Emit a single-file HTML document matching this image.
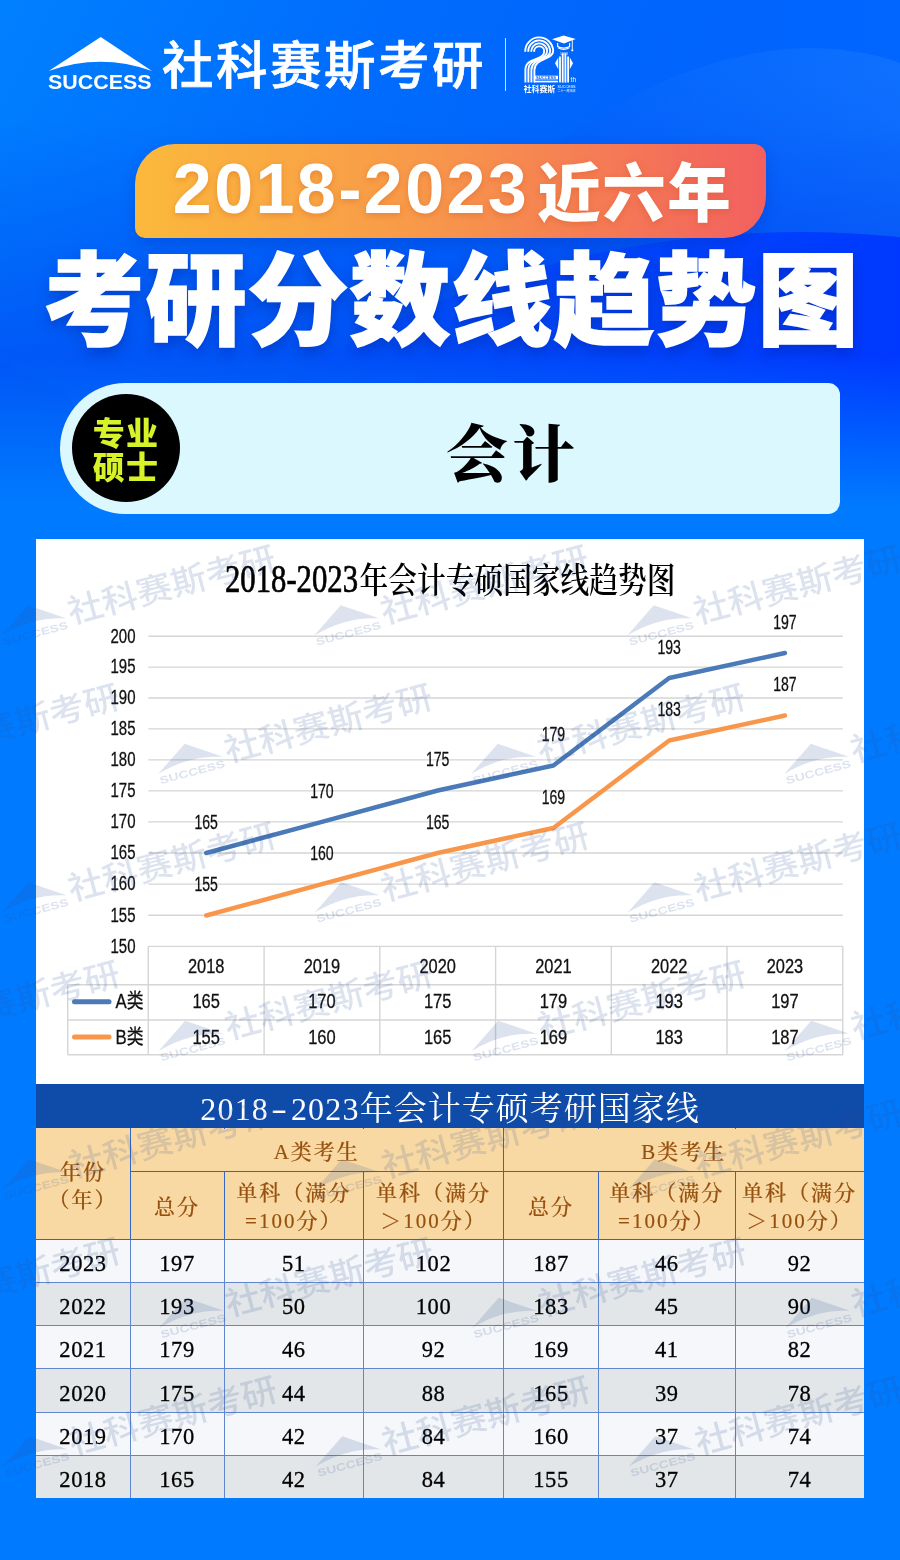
<!DOCTYPE html>
<html lang="zh-CN">
<head>
<meta charset="utf-8">
<title>2018-2023 近六年 考研分数线趋势图 会计</title>
<style>
  html, body { margin: 0; padding: 0; }
  body { width: 900px; height: 1560px; overflow: hidden; background: #007bff; font-family: "Liberation Sans", "Noto Sans CJK SC", sans-serif; }
  #page { position: relative; width: 900px; height: 1560px; overflow: hidden; background: #007bff; }
  .abs { position: absolute; }
  #bg { position: absolute; left: 0; top: 0; width: 900px; height: 560px; }
  #brand { position: absolute; left: 162px; top: 32px; font-size: 51.500px; line-height: 68px; color: #fff; font-weight: 500; -webkit-text-stroke: 0.7px #fff; letter-spacing: 2.5px; white-space: nowrap; font-family: "Liberation Sans", "Noto Sans CJK SC", sans-serif; }
  #divider { position: absolute; left: 504.500px; top: 38px; width: 1.500px; height: 53px; background: rgba(255,255,255,0.8); }
  #banner { position: absolute; left: 135px; top: 144px; width: 631px; height: 94px; border-radius: 40px 12px 42px 10px; background: linear-gradient(90deg, #fbb93c 0%, #f8994a 45%, #f2605f 100%); box-shadow: 0 6px 14px rgba(0,40,160,0.25); }
  #banner .t { position: absolute; left: 2px; top: 0; width: 100%; height: 94px; line-height: 94px; text-align: center; color: #fff; font-weight: 700; white-space: nowrap; text-shadow: 0 2px 6px rgba(200,80,20,0.35); }
  #banner .num { font-family: "Liberation Sans", sans-serif; font-size: 70px; letter-spacing: 2.4px; position: relative; top: -2px; }
  #banner .cn { font-family: "Liberation Sans", "Noto Sans CJK SC", sans-serif; font-weight: 900; font-size: 63.500px; position: relative; top: 1px; margin-left: 8px; letter-spacing: 1.5px; }
  #title { position: absolute; left: 1.500px; top: 237px; width: 900px; height: 130px; line-height: 130px; text-align: center; color: #fff; font-family: "Liberation Sans", "Noto Sans CJK SC", sans-serif; font-weight: 900; font-size: 101px; letter-spacing: 1px; -webkit-text-stroke: 1.6px #fff; white-space: nowrap; text-shadow: 0 6px 14px rgba(0,30,150,0.45); }
  #pill { position: absolute; left: 60px; top: 382.700px; width: 780px; height: 131.700px; border-radius: 66px 12px 12px 66px; background: #dbf8ff; }
  #dot { position: absolute; left: 72px; top: 394px; width: 108px; height: 108px; border-radius: 50%; background: #000; }
  #dot .t { position: absolute; left: 0; width: 108px; text-align: center; color: #d8f229; font-weight: 900; font-size: 32px; line-height: 32px; letter-spacing: 1.2px; font-family: "Liberation Sans", "Noto Sans CJK SC", sans-serif; }
  #major { position: absolute; left: 182.500px; top: 400.500px; width: 660px; height: 110px; line-height: 110px; text-align: center; color: #000; font-family: "Liberation Serif", "Noto Serif CJK SC", serif; font-weight: 900; font-size: 62px; letter-spacing: 4.500px; }
  .ct { font-family: "Liberation Sans", "Noto Sans CJK SC", sans-serif; font-size: 20px; fill: #111; stroke: #111; stroke-width: 0.3px; }
  #tbl { position: absolute; left: 36px; top: 1084px; width: 828px; height: 414px; background: #f9d9a3; }
  .cell { position: absolute; box-sizing: border-box; text-align: center; font-family: "Liberation Serif", "Noto Serif CJK SC", serif; white-space: nowrap; overflow: hidden; }
  .cell.ttl { background: #0f4ba9; color: #fff; font-size: 33px; line-height: 50px; letter-spacing: 1px; }
  .cell.ttl .d { font-size: 32px; letter-spacing: 1.2px; }
  .cell.ttl .hy { display: inline-block; transform: scaleX(1.5); margin: 0 5px; position: relative; top: -1px; }
  .cell.hd { background: #f9d9a3; color: #96500f; font-weight: 500; -webkit-text-stroke: 0.2px #96500f; font-size: 21px; letter-spacing: 2px; }
  .cell.hd .two { line-height: 29px; }
  .cell.dt { color: #000; font-size: 22.500px; letter-spacing: 0.6px; -webkit-text-stroke: 0.3px #000; }
  .vl { position: absolute; width: 1px; background: #3466c4; }
  .hl { position: absolute; height: 1px; background: #3466c4; }
  .vl.lt, .hl.lt { background: #5f86cf; }
  #wmclip { position: absolute; left: 0; top: 539px; width: 900px; height: 960px; overflow: hidden; pointer-events: none; }
  #wm { position: absolute; left: 0; top: -539px; width: 900px; height: 1560px; }

</style>
</head>
<body>
<div id="page">

<svg id="bg" viewBox="0 0 900 560" width="900" height="560">
  <defs>
    <linearGradient id="g0" gradientUnits="userSpaceOnUse" x1="0" y1="0" x2="620" y2="330">
      <stop offset="0" stop-color="#0080ff"/>
      <stop offset="0.500" stop-color="#006cfd"/>
      <stop offset="1" stop-color="#0062fb"/>
    </linearGradient>
    <linearGradient id="gfade" gradientUnits="userSpaceOnUse" x1="0" y1="355" x2="0" y2="507">
      <stop offset="0" stop-color="#007bff" stop-opacity="0"/>
      <stop offset="1" stop-color="#007bff" stop-opacity="1"/>
    </linearGradient>
    <linearGradient id="gdark" gradientUnits="userSpaceOnUse" x1="150" y1="0" x2="900" y2="0">
      <stop offset="0" stop-color="#0050fc" stop-opacity="0"/>
      <stop offset="0.450" stop-color="#0048fc" stop-opacity="0.750"/>
      <stop offset="1" stop-color="#0038ff" stop-opacity="1"/>
    </linearGradient>
    <linearGradient id="garc" gradientUnits="userSpaceOnUse" x1="540" y1="0" x2="900" y2="0">
      <stop offset="0" stop-color="#1a78ff" stop-opacity="0"/>
      <stop offset="1" stop-color="#1a78ff" stop-opacity="0.550"/>
    </linearGradient>
    <linearGradient id="gvd" gradientUnits="userSpaceOnUse" x1="0" y1="120" x2="0" y2="360">
      <stop offset="0" stop-color="#0040f0" stop-opacity="0"/>
      <stop offset="1" stop-color="#0040f0" stop-opacity="0.550"/>
    </linearGradient>
    <linearGradient id="gva" gradientUnits="userSpaceOnUse" x1="0" y1="70" x2="0" y2="240">
      <stop offset="0" stop-color="#0048f0" stop-opacity="0"/>
      <stop offset="1" stop-color="#0048f0" stop-opacity="0.300"/>
    </linearGradient>
    <linearGradient id="gtopr" gradientUnits="userSpaceOnUse" x1="500" y1="0" x2="900" y2="0">
      <stop offset="0" stop-color="#0066ff" stop-opacity="0"/>
      <stop offset="1" stop-color="#0066ff" stop-opacity="1"/>
    </linearGradient>
  </defs>
  <rect x="0" y="0" width="900" height="560" fill="url(#g0)"/>
  <rect x="500" y="0" width="400" height="240" fill="url(#gtopr)"/>
  <path d="M520,175 C600,100 710,50 805,48 C845,48 880,55 900,63 L900,300 L520,300 Z" fill="url(#garc)"/>
  <path d="M520,175 C600,100 710,50 805,48 C845,48 880,55 900,63 L900,300 L520,300 Z" fill="url(#gva)"/>
  <rect x="0" y="120" width="900" height="400" fill="url(#gvd)"/>
  <circle cx="800" cy="1207" r="975" fill="url(#gdark)"/>
  <path d="M0,362 L66,392 L120,470 L0,470 Z" fill="#0050f5" fill-opacity="0.250"/>
  <rect x="0" y="355" width="900" height="152" fill="url(#gfade)"/>
  <rect x="0" y="506.500" width="900" height="54" fill="#007bff"/>
</svg>


<svg class="abs" style="left:40px;top:30px" width="120" height="66" viewBox="40 30 120 66">
  <path d="M100.700,37 L152,71 Q100.700,52.400 48.700,71 Z" fill="#fff"/>
  <text x="48" y="89" font-family="'Liberation Sans',sans-serif" font-weight="700" font-size="20.500" fill="#fff" textLength="103.500" lengthAdjust="spacingAndGlyphs">SUCCESS</text>
</svg>
<div id="brand">社科赛斯考研</div>
<div id="divider"></div>
<svg class="abs" style="left:520px;top:32px" width="64" height="64" viewBox="520 32 64 64" fill="none" stroke="#fff">
  <g stroke-width="1.900">
    <path d="M525.20,51.80 A14.00,14.00 0 0 1 553.20,51.00 C553.20,60.00 534.40,58.00 534.40,70.00 L534.40,82.40"/>
    <path d="M528.20,51.80 A11.00,11.00 0 0 1 550.20,51.00 C550.20,60.60 531.40,57.40 531.40,70.00 L531.40,82.40"/>
    <path d="M531.20,51.80 A8.00,8.00 0 0 1 547.20,51.00 C547.20,61.20 528.40,56.80 528.40,70.00 L528.40,82.40"/>
    <path d="M534.20,51.80 A5.00,5.00 0 0 1 544.20,51.00 C544.20,61.80 525.40,56.20 525.40,70.00 L525.40,82.40"/>
  </g>
  <rect x="534.300" y="75.700" width="23.700" height="3.700" fill="#fff" stroke="none"/>
  <text x="536" y="78.700" font-family="'Liberation Sans',sans-serif" font-weight="700" font-size="3.200" fill="#0a5cf0" stroke="none" textLength="20" lengthAdjust="spacingAndGlyphs">SUCCESS</text>
  <rect x="534.300" y="80.700" width="23.700" height="1.700" fill="#fff" stroke="none"/>
  <g stroke-width="1.800">
    <path d="M560,56.500 L560,82.600"/><path d="M562.700,53.500 L562.700,82.600"/><path d="M565.400,53.500 L565.400,82.600"/><path d="M568.100,56.500 L568.100,82.600"/>
  </g>
  <path d="M558.300,57.500 L555,63.300 L558.300,69.200 Z M569.800,57.500 L573,63.300 L569.800,69.200 Z" fill="#fff" stroke="none"/>
  <path d="M552,39.300 L563.500,35.600 L575.700,39 L564,43.400 Z" fill="#fff" stroke="none"/>
  <path d="M557.600,43 L557.600,46.500 C561,48.600 566.500,48.600 569.600,46.500 L569.600,43" stroke-width="1.200"/>
  <path d="M558,47.800 C561.500,49.800 566,49.800 569.300,47.800" stroke-width="1.100"/>
  <path d="M572.300,40 L572.300,49.500" stroke-width="0.900"/>
  <circle cx="572.300" cy="50.300" r="1.100" fill="#fff" stroke="none"/>
  <text x="560" y="54.500" font-family="'Liberation Sans',sans-serif" font-size="2.600" fill="#fff" stroke="none" textLength="8" lengthAdjust="spacingAndGlyphs">1999</text>
  <text x="570.600" y="82.400" font-family="'Liberation Sans',sans-serif" font-size="6.800" fill="#fff" stroke="none" textLength="5.400" lengthAdjust="spacingAndGlyphs">th</text>
  <text x="523.700" y="91.600" font-family="'Liberation Sans','Noto Sans CJK SC',sans-serif" font-weight="700" font-size="8" fill="#fff" stroke="none" textLength="31.500" lengthAdjust="spacingAndGlyphs">社科赛斯</text>
  <text x="557.600" y="88" font-family="'Liberation Sans',sans-serif" font-size="3.600" fill="#fff" stroke="none" textLength="18" lengthAdjust="spacingAndGlyphs">SUCCESS</text>
  <text x="557.600" y="91.800" font-family="'Liberation Sans','Noto Sans CJK SC',sans-serif" font-size="3.400" fill="#fff" stroke="none" textLength="18" lengthAdjust="spacingAndGlyphs">二十一周年庆</text>
</svg>


<div id="banner"><div class="t"><span class="num">2018-2023</span><span class="cn">近六年</span></div></div>
<div id="title">考研分数线趋势图</div>


<div id="pill"></div>
<div id="dot"><div class="t" style="top:23.500px">专业</div><div class="t" style="top:58px">硕士</div></div>
<div id="major">会计</div>

<svg class="abs" style="left:36px;top:539px" width="828" height="546" viewBox="36 539 828 546">
<rect x="36" y="539" width="828" height="546" fill="#fff"/>
<text x="225" y="592" font-family="'Liberation Serif',serif" font-weight="400" font-size="39" fill="#000" stroke="#000" stroke-width="0.7" textLength="133" lengthAdjust="spacingAndGlyphs">2018-2023</text>
<text x="359.500" y="593" font-family="'Liberation Serif','Noto Serif CJK SC',serif" font-weight="600" font-size="35" fill="#000" textLength="316" lengthAdjust="spacingAndGlyphs">年会计专硕国家线趋势图</text>
<line x1="148.3" x2="842.8" y1="915.2" y2="915.2" stroke="#d5d5d5" stroke-width="1.4"/>
<line x1="148.3" x2="842.8" y1="884.1" y2="884.1" stroke="#d5d5d5" stroke-width="1.4"/>
<line x1="148.3" x2="842.8" y1="853.0" y2="853.0" stroke="#d5d5d5" stroke-width="1.4"/>
<line x1="148.3" x2="842.8" y1="821.9" y2="821.9" stroke="#d5d5d5" stroke-width="1.4"/>
<line x1="148.3" x2="842.8" y1="790.9" y2="790.9" stroke="#d5d5d5" stroke-width="1.4"/>
<line x1="148.3" x2="842.8" y1="759.9" y2="759.9" stroke="#d5d5d5" stroke-width="1.4"/>
<line x1="148.3" x2="842.8" y1="728.9" y2="728.9" stroke="#d5d5d5" stroke-width="1.4"/>
<line x1="148.3" x2="842.8" y1="698.0" y2="698.0" stroke="#d5d5d5" stroke-width="1.4"/>
<line x1="148.3" x2="842.8" y1="667.1" y2="667.1" stroke="#d5d5d5" stroke-width="1.4"/>
<line x1="148.3" x2="842.8" y1="636.2" y2="636.2" stroke="#d5d5d5" stroke-width="1.4"/>
<text x="135.500" y="952.7" text-anchor="end" class="ct" textLength="25" lengthAdjust="spacingAndGlyphs">150</text>
<text x="135.500" y="921.5" text-anchor="end" class="ct" textLength="25" lengthAdjust="spacingAndGlyphs">155</text>
<text x="135.500" y="890.4" text-anchor="end" class="ct" textLength="25" lengthAdjust="spacingAndGlyphs">160</text>
<text x="135.500" y="859.3" text-anchor="end" class="ct" textLength="25" lengthAdjust="spacingAndGlyphs">165</text>
<text x="135.500" y="828.2" text-anchor="end" class="ct" textLength="25" lengthAdjust="spacingAndGlyphs">170</text>
<text x="135.500" y="797.2" text-anchor="end" class="ct" textLength="25" lengthAdjust="spacingAndGlyphs">175</text>
<text x="135.500" y="766.2" text-anchor="end" class="ct" textLength="25" lengthAdjust="spacingAndGlyphs">180</text>
<text x="135.500" y="735.2" text-anchor="end" class="ct" textLength="25" lengthAdjust="spacingAndGlyphs">185</text>
<text x="135.500" y="704.3" text-anchor="end" class="ct" textLength="25" lengthAdjust="spacingAndGlyphs">190</text>
<text x="135.500" y="673.4" text-anchor="end" class="ct" textLength="25" lengthAdjust="spacingAndGlyphs">195</text>
<text x="135.500" y="642.5" text-anchor="end" class="ct" textLength="25" lengthAdjust="spacingAndGlyphs">200</text>
<line x1="148.3" x2="842.800" y1="946.4" y2="946.4" stroke="#d5d5d5" stroke-width="1.4"/>
<line x1="67.7" x2="842.800" y1="984.7" y2="984.7" stroke="#d5d5d5" stroke-width="1.4"/>
<line x1="67.7" x2="842.800" y1="1020.0" y2="1020.0" stroke="#d5d5d5" stroke-width="1.4"/>
<line x1="67.7" x2="842.800" y1="1054.7" y2="1054.7" stroke="#d5d5d5" stroke-width="1.4"/>
<line x1="148.3" x2="148.3" y1="946.400" y2="1054.700" stroke="#d5d5d5" stroke-width="1.4"/>
<line x1="264.1" x2="264.1" y1="946.400" y2="1054.700" stroke="#d5d5d5" stroke-width="1.4"/>
<line x1="379.8" x2="379.8" y1="946.400" y2="1054.700" stroke="#d5d5d5" stroke-width="1.4"/>
<line x1="495.6" x2="495.6" y1="946.400" y2="1054.700" stroke="#d5d5d5" stroke-width="1.4"/>
<line x1="611.3" x2="611.3" y1="946.400" y2="1054.700" stroke="#d5d5d5" stroke-width="1.4"/>
<line x1="727.0" x2="727.0" y1="946.400" y2="1054.700" stroke="#d5d5d5" stroke-width="1.4"/>
<line x1="842.8" x2="842.8" y1="946.400" y2="1054.700" stroke="#d5d5d5" stroke-width="1.4"/>
<line x1="67.700" x2="67.700" y1="984.700" y2="1054.700" stroke="#d5d5d5" stroke-width="1.4"/>
<text x="206.2" y="973.200" text-anchor="middle" class="ct" textLength="36.500" lengthAdjust="spacingAndGlyphs">2018</text>
<text x="206.2" y="1008.200" text-anchor="middle" class="ct" textLength="27.500" lengthAdjust="spacingAndGlyphs">165</text>
<text x="206.2" y="1043.600" text-anchor="middle" class="ct" textLength="27.500" lengthAdjust="spacingAndGlyphs">155</text>
<text x="321.9" y="973.200" text-anchor="middle" class="ct" textLength="36.500" lengthAdjust="spacingAndGlyphs">2019</text>
<text x="321.9" y="1008.200" text-anchor="middle" class="ct" textLength="27.500" lengthAdjust="spacingAndGlyphs">170</text>
<text x="321.9" y="1043.600" text-anchor="middle" class="ct" textLength="27.500" lengthAdjust="spacingAndGlyphs">160</text>
<text x="437.7" y="973.200" text-anchor="middle" class="ct" textLength="36.500" lengthAdjust="spacingAndGlyphs">2020</text>
<text x="437.7" y="1008.200" text-anchor="middle" class="ct" textLength="27.500" lengthAdjust="spacingAndGlyphs">175</text>
<text x="437.7" y="1043.600" text-anchor="middle" class="ct" textLength="27.500" lengthAdjust="spacingAndGlyphs">165</text>
<text x="553.4" y="973.200" text-anchor="middle" class="ct" textLength="36.500" lengthAdjust="spacingAndGlyphs">2021</text>
<text x="553.4" y="1008.200" text-anchor="middle" class="ct" textLength="27.500" lengthAdjust="spacingAndGlyphs">179</text>
<text x="553.4" y="1043.600" text-anchor="middle" class="ct" textLength="27.500" lengthAdjust="spacingAndGlyphs">169</text>
<text x="669.2" y="973.200" text-anchor="middle" class="ct" textLength="36.500" lengthAdjust="spacingAndGlyphs">2022</text>
<text x="669.2" y="1008.200" text-anchor="middle" class="ct" textLength="27.500" lengthAdjust="spacingAndGlyphs">193</text>
<text x="669.2" y="1043.600" text-anchor="middle" class="ct" textLength="27.500" lengthAdjust="spacingAndGlyphs">183</text>
<text x="784.9" y="973.200" text-anchor="middle" class="ct" textLength="36.500" lengthAdjust="spacingAndGlyphs">2023</text>
<text x="784.9" y="1008.200" text-anchor="middle" class="ct" textLength="27.500" lengthAdjust="spacingAndGlyphs">197</text>
<text x="784.9" y="1043.600" text-anchor="middle" class="ct" textLength="27.500" lengthAdjust="spacingAndGlyphs">187</text>
<line x1="74.500" x2="109" y1="1001.700" y2="1001.700" stroke="#4a7ab8" stroke-width="5" stroke-linecap="round"/>
<line x1="74.500" x2="109" y1="1037" y2="1037" stroke="#f8974b" stroke-width="5" stroke-linecap="round"/>
<text x="115.500" y="1008.400" class="ct" textLength="28" lengthAdjust="spacingAndGlyphs">A类</text>
<text x="115.500" y="1043.800" class="ct" textLength="28" lengthAdjust="spacingAndGlyphs">B类</text>
<polyline points="206.2,853.0 321.9,821.8 437.7,790.5 553.4,765.5 669.2,678.0 784.9,653.0" fill="none" stroke="#4a7ab8" stroke-width="4.5" stroke-linecap="round" stroke-linejoin="round"/>
<polyline points="206.2,915.5 321.9,884.2 437.7,853.0 553.4,828.0 669.2,740.5 784.9,715.5" fill="none" stroke="#f8974b" stroke-width="4.5" stroke-linecap="round" stroke-linejoin="round"/>
<text x="206.2" y="828.7" text-anchor="middle" class="ct" textLength="23.500" lengthAdjust="spacingAndGlyphs">165</text>
<text x="321.9" y="797.5" text-anchor="middle" class="ct" textLength="23.500" lengthAdjust="spacingAndGlyphs">170</text>
<text x="437.7" y="766.2" text-anchor="middle" class="ct" textLength="23.500" lengthAdjust="spacingAndGlyphs">175</text>
<text x="553.4" y="741.2" text-anchor="middle" class="ct" textLength="23.500" lengthAdjust="spacingAndGlyphs">179</text>
<text x="669.2" y="653.7" text-anchor="middle" class="ct" textLength="23.500" lengthAdjust="spacingAndGlyphs">193</text>
<text x="784.9" y="628.7" text-anchor="middle" class="ct" textLength="23.500" lengthAdjust="spacingAndGlyphs">197</text>
<text x="206.2" y="891.2" text-anchor="middle" class="ct" textLength="23.500" lengthAdjust="spacingAndGlyphs">155</text>
<text x="321.9" y="860.0" text-anchor="middle" class="ct" textLength="23.500" lengthAdjust="spacingAndGlyphs">160</text>
<text x="437.7" y="828.7" text-anchor="middle" class="ct" textLength="23.500" lengthAdjust="spacingAndGlyphs">165</text>
<text x="553.4" y="803.7" text-anchor="middle" class="ct" textLength="23.500" lengthAdjust="spacingAndGlyphs">169</text>
<text x="669.2" y="716.2" text-anchor="middle" class="ct" textLength="23.500" lengthAdjust="spacingAndGlyphs">183</text>
<text x="784.9" y="691.2" text-anchor="middle" class="ct" textLength="23.500" lengthAdjust="spacingAndGlyphs">187</text>
</svg>
<div id="tbl">
<div class="cell ttl" style="left:0.0px;top:0.0px;width:828.0px;height:44.0px;"><span class="d">2018<span class="hy">-</span>2023</span>年会计专硕考研国家线</div>
<div class="cell hd" style="left:0.0px;top:44.0px;width:94.0px;height:111.0px;"><div class="two" style="padding-top:29.500px;line-height:28.500px">年份<br>（年）</div></div>
<div class="cell hd one" style="left:94.0px;top:44.0px;width:373.5px;height:43.5px;line-height:49px;">A类考生</div>
<div class="cell hd one" style="left:467.5px;top:44.0px;width:360.5px;height:43.5px;line-height:49px;">B类考生</div>
<div class="cell hd one" style="left:94.0px;top:87.5px;width:94.0px;height:67.5px;line-height:71px;">总分</div>
<div class="cell hd" style="left:188.0px;top:87.5px;width:139.5px;height:67.5px;"><div class="two" style="padding-top:7px;line-height:28px">单科（满分<br>=100分）</div></div>
<div class="cell hd" style="left:327.5px;top:87.5px;width:140.0px;height:67.5px;"><div class="two" style="padding-top:7px;line-height:28px">单科（满分<br>＞100分）</div></div>
<div class="cell hd one" style="left:467.5px;top:87.5px;width:95.0px;height:67.5px;line-height:71px;">总分</div>
<div class="cell hd" style="left:562.5px;top:87.5px;width:136.5px;height:67.5px;"><div class="two" style="padding-top:7px;line-height:28px">单科（满分<br>=100分）</div></div>
<div class="cell hd" style="left:699.0px;top:87.5px;width:129.0px;height:67.5px;"><div class="two" style="padding-top:7px;line-height:28px">单科（满分<br>＞100分）</div></div>
<div class="cell dt" style="left:0.0px;top:155.0px;width:94.0px;height:43.0px;background:#f5f7fa;line-height:49.0px;">2023</div>
<div class="cell dt" style="left:94.0px;top:155.0px;width:94.0px;height:43.0px;background:#f5f7fa;line-height:49.0px;">197</div>
<div class="cell dt" style="left:188.0px;top:155.0px;width:139.5px;height:43.0px;background:#f5f7fa;line-height:49.0px;">51</div>
<div class="cell dt" style="left:327.5px;top:155.0px;width:140.0px;height:43.0px;background:#f5f7fa;line-height:49.0px;">102</div>
<div class="cell dt" style="left:467.5px;top:155.0px;width:95.0px;height:43.0px;background:#f5f7fa;line-height:49.0px;">187</div>
<div class="cell dt" style="left:562.5px;top:155.0px;width:136.5px;height:43.0px;background:#f5f7fa;line-height:49.0px;">46</div>
<div class="cell dt" style="left:699.0px;top:155.0px;width:129.0px;height:43.0px;background:#f5f7fa;line-height:49.0px;">92</div>
<div class="cell dt" style="left:0.0px;top:198.0px;width:94.0px;height:43.2px;background:#e3e6e8;line-height:49.2px;">2022</div>
<div class="cell dt" style="left:94.0px;top:198.0px;width:94.0px;height:43.2px;background:#e3e6e8;line-height:49.2px;">193</div>
<div class="cell dt" style="left:188.0px;top:198.0px;width:139.5px;height:43.2px;background:#e3e6e8;line-height:49.2px;">50</div>
<div class="cell dt" style="left:327.5px;top:198.0px;width:140.0px;height:43.2px;background:#e3e6e8;line-height:49.2px;">100</div>
<div class="cell dt" style="left:467.5px;top:198.0px;width:95.0px;height:43.2px;background:#e3e6e8;line-height:49.2px;">183</div>
<div class="cell dt" style="left:562.5px;top:198.0px;width:136.5px;height:43.2px;background:#e3e6e8;line-height:49.2px;">45</div>
<div class="cell dt" style="left:699.0px;top:198.0px;width:129.0px;height:43.2px;background:#e3e6e8;line-height:49.2px;">90</div>
<div class="cell dt" style="left:0.0px;top:241.2px;width:94.0px;height:43.3px;background:#f5f7fa;line-height:49.3px;">2021</div>
<div class="cell dt" style="left:94.0px;top:241.2px;width:94.0px;height:43.3px;background:#f5f7fa;line-height:49.3px;">179</div>
<div class="cell dt" style="left:188.0px;top:241.2px;width:139.5px;height:43.3px;background:#f5f7fa;line-height:49.3px;">46</div>
<div class="cell dt" style="left:327.5px;top:241.2px;width:140.0px;height:43.3px;background:#f5f7fa;line-height:49.3px;">92</div>
<div class="cell dt" style="left:467.5px;top:241.2px;width:95.0px;height:43.3px;background:#f5f7fa;line-height:49.3px;">169</div>
<div class="cell dt" style="left:562.5px;top:241.2px;width:136.5px;height:43.3px;background:#f5f7fa;line-height:49.3px;">41</div>
<div class="cell dt" style="left:699.0px;top:241.2px;width:129.0px;height:43.3px;background:#f5f7fa;line-height:49.3px;">82</div>
<div class="cell dt" style="left:0.0px;top:284.5px;width:94.0px;height:43.5px;background:#e3e6e8;line-height:49.5px;">2020</div>
<div class="cell dt" style="left:94.0px;top:284.5px;width:94.0px;height:43.5px;background:#e3e6e8;line-height:49.5px;">175</div>
<div class="cell dt" style="left:188.0px;top:284.5px;width:139.5px;height:43.5px;background:#e3e6e8;line-height:49.5px;">44</div>
<div class="cell dt" style="left:327.5px;top:284.5px;width:140.0px;height:43.5px;background:#e3e6e8;line-height:49.5px;">88</div>
<div class="cell dt" style="left:467.5px;top:284.5px;width:95.0px;height:43.5px;background:#e3e6e8;line-height:49.5px;">165</div>
<div class="cell dt" style="left:562.5px;top:284.5px;width:136.5px;height:43.5px;background:#e3e6e8;line-height:49.5px;">39</div>
<div class="cell dt" style="left:699.0px;top:284.5px;width:129.0px;height:43.5px;background:#e3e6e8;line-height:49.5px;">78</div>
<div class="cell dt" style="left:0.0px;top:328.0px;width:94.0px;height:43.0px;background:#f5f7fa;line-height:49.0px;">2019</div>
<div class="cell dt" style="left:94.0px;top:328.0px;width:94.0px;height:43.0px;background:#f5f7fa;line-height:49.0px;">170</div>
<div class="cell dt" style="left:188.0px;top:328.0px;width:139.5px;height:43.0px;background:#f5f7fa;line-height:49.0px;">42</div>
<div class="cell dt" style="left:327.5px;top:328.0px;width:140.0px;height:43.0px;background:#f5f7fa;line-height:49.0px;">84</div>
<div class="cell dt" style="left:467.5px;top:328.0px;width:95.0px;height:43.0px;background:#f5f7fa;line-height:49.0px;">160</div>
<div class="cell dt" style="left:562.5px;top:328.0px;width:136.5px;height:43.0px;background:#f5f7fa;line-height:49.0px;">37</div>
<div class="cell dt" style="left:699.0px;top:328.0px;width:129.0px;height:43.0px;background:#f5f7fa;line-height:49.0px;">74</div>
<div class="cell dt" style="left:0.0px;top:371.0px;width:94.0px;height:43.0px;background:#e3e6e8;line-height:49.0px;">2018</div>
<div class="cell dt" style="left:94.0px;top:371.0px;width:94.0px;height:43.0px;background:#e3e6e8;line-height:49.0px;">165</div>
<div class="cell dt" style="left:188.0px;top:371.0px;width:139.5px;height:43.0px;background:#e3e6e8;line-height:49.0px;">42</div>
<div class="cell dt" style="left:327.5px;top:371.0px;width:140.0px;height:43.0px;background:#e3e6e8;line-height:49.0px;">84</div>
<div class="cell dt" style="left:467.5px;top:371.0px;width:95.0px;height:43.0px;background:#e3e6e8;line-height:49.0px;">155</div>
<div class="cell dt" style="left:562.5px;top:371.0px;width:136.5px;height:43.0px;background:#e3e6e8;line-height:49.0px;">37</div>
<div class="cell dt" style="left:699.0px;top:371.0px;width:129.0px;height:43.0px;background:#e3e6e8;line-height:49.0px;">74</div>
<div class="vl" style="left:93.9px;top:44.0px;height:111.0px"></div>
<div class="vl lt" style="left:93.9px;top:155.0px;height:259.0px"></div>
<div class="vl" style="left:187.9px;top:44.0px;height:111.0px"></div>
<div class="vl lt" style="left:187.9px;top:155.0px;height:259.0px"></div>
<div class="vl" style="left:327.4px;top:44.0px;height:111.0px"></div>
<div class="vl lt" style="left:327.4px;top:155.0px;height:259.0px"></div>
<div class="vl" style="left:467.4px;top:44.0px;height:111.0px"></div>
<div class="vl lt" style="left:467.4px;top:155.0px;height:259.0px"></div>
<div class="vl" style="left:562.4px;top:44.0px;height:111.0px"></div>
<div class="vl lt" style="left:562.4px;top:155.0px;height:259.0px"></div>
<div class="vl" style="left:698.9px;top:44.0px;height:111.0px"></div>
<div class="vl lt" style="left:698.9px;top:155.0px;height:259.0px"></div>
<div class="abs" style="left:186.5px;top:44.5px;width:3px;height:42.3px;background:#f9d9a3"></div>
<div class="abs" style="left:326.0px;top:44.5px;width:3px;height:42.3px;background:#f9d9a3"></div>
<div class="abs" style="left:561.0px;top:44.5px;width:3px;height:42.3px;background:#f9d9a3"></div>
<div class="abs" style="left:697.5px;top:44.5px;width:3px;height:42.3px;background:#f9d9a3"></div>
<div class="hl" style="left:94.0px;top:87.2px;width:734.0px"></div>
<div class="hl" style="left:0px;top:154.9px;width:828px"></div>
<div class="hl lt" style="left:0px;top:197.9px;width:828px"></div>
<div class="hl lt" style="left:0px;top:241.1px;width:828px"></div>
<div class="hl lt" style="left:0px;top:284.4px;width:828px"></div>
<div class="hl lt" style="left:0px;top:327.9px;width:828px"></div>
<div class="hl lt" style="left:0px;top:370.9px;width:828px"></div>
</div>
<div id="wmclip"><svg id="wm" viewBox="0 0 900 1560" width="900" height="1560" fill="#284f96" fill-opacity="0.165">
<g transform="translate(-153.1,784.5) rotate(-15)"><path d="M34.500,-33 L68,-10.500 C46,-17.500 23,-17.500 1,-10.500 Z"/><text x="1" y="0" font-family="'Liberation Sans',sans-serif" font-weight="700" font-size="10.500" textLength="67" lengthAdjust="spacingAndGlyphs">SUCCESS</text><text x="71.500" y="-3.500" font-family="'Liberation Sans','Noto Sans CJK SC',sans-serif" font-weight="500" font-size="33" textLength="214" lengthAdjust="spacingAndGlyphs">社科赛斯考研</text></g>
<g transform="translate(3.0,646.0) rotate(-15)"><path d="M34.500,-33 L68,-10.500 C46,-17.500 23,-17.500 1,-10.500 Z"/><text x="1" y="0" font-family="'Liberation Sans',sans-serif" font-weight="700" font-size="10.500" textLength="67" lengthAdjust="spacingAndGlyphs">SUCCESS</text><text x="71.500" y="-3.500" font-family="'Liberation Sans','Noto Sans CJK SC',sans-serif" font-weight="500" font-size="33" textLength="214" lengthAdjust="spacingAndGlyphs">社科赛斯考研</text></g>
<g transform="translate(159.9,784.5) rotate(-15)"><path d="M34.500,-33 L68,-10.500 C46,-17.500 23,-17.500 1,-10.500 Z"/><text x="1" y="0" font-family="'Liberation Sans',sans-serif" font-weight="700" font-size="10.500" textLength="67" lengthAdjust="spacingAndGlyphs">SUCCESS</text><text x="71.500" y="-3.500" font-family="'Liberation Sans','Noto Sans CJK SC',sans-serif" font-weight="500" font-size="33" textLength="214" lengthAdjust="spacingAndGlyphs">社科赛斯考研</text></g>
<g transform="translate(316.0,646.0) rotate(-15)"><path d="M34.500,-33 L68,-10.500 C46,-17.500 23,-17.500 1,-10.500 Z"/><text x="1" y="0" font-family="'Liberation Sans',sans-serif" font-weight="700" font-size="10.500" textLength="67" lengthAdjust="spacingAndGlyphs">SUCCESS</text><text x="71.500" y="-3.500" font-family="'Liberation Sans','Noto Sans CJK SC',sans-serif" font-weight="500" font-size="33" textLength="214" lengthAdjust="spacingAndGlyphs">社科赛斯考研</text></g>
<g transform="translate(472.9,784.5) rotate(-15)"><path d="M34.500,-33 L68,-10.500 C46,-17.500 23,-17.500 1,-10.500 Z"/><text x="1" y="0" font-family="'Liberation Sans',sans-serif" font-weight="700" font-size="10.500" textLength="67" lengthAdjust="spacingAndGlyphs">SUCCESS</text><text x="71.500" y="-3.500" font-family="'Liberation Sans','Noto Sans CJK SC',sans-serif" font-weight="500" font-size="33" textLength="214" lengthAdjust="spacingAndGlyphs">社科赛斯考研</text></g>
<g transform="translate(629.0,646.0) rotate(-15)"><path d="M34.500,-33 L68,-10.500 C46,-17.500 23,-17.500 1,-10.500 Z"/><text x="1" y="0" font-family="'Liberation Sans',sans-serif" font-weight="700" font-size="10.500" textLength="67" lengthAdjust="spacingAndGlyphs">SUCCESS</text><text x="71.500" y="-3.500" font-family="'Liberation Sans','Noto Sans CJK SC',sans-serif" font-weight="500" font-size="33" textLength="214" lengthAdjust="spacingAndGlyphs">社科赛斯考研</text></g>
<g transform="translate(786.0,784.5) rotate(-15)"><path d="M34.500,-33 L68,-10.500 C46,-17.500 23,-17.500 1,-10.500 Z"/><text x="1" y="0" font-family="'Liberation Sans',sans-serif" font-weight="700" font-size="10.500" textLength="67" lengthAdjust="spacingAndGlyphs">SUCCESS</text><text x="71.500" y="-3.500" font-family="'Liberation Sans','Noto Sans CJK SC',sans-serif" font-weight="500" font-size="33" textLength="214" lengthAdjust="spacingAndGlyphs">社科赛斯考研</text></g>
<g transform="translate(-152.6,1061.5) rotate(-15)"><path d="M34.500,-33 L68,-10.500 C46,-17.500 23,-17.500 1,-10.500 Z"/><text x="1" y="0" font-family="'Liberation Sans',sans-serif" font-weight="700" font-size="10.500" textLength="67" lengthAdjust="spacingAndGlyphs">SUCCESS</text><text x="71.500" y="-3.500" font-family="'Liberation Sans','Noto Sans CJK SC',sans-serif" font-weight="500" font-size="33" textLength="214" lengthAdjust="spacingAndGlyphs">社科赛斯考研</text></g>
<g transform="translate(3.5,923.0) rotate(-15)"><path d="M34.500,-33 L68,-10.500 C46,-17.500 23,-17.500 1,-10.500 Z"/><text x="1" y="0" font-family="'Liberation Sans',sans-serif" font-weight="700" font-size="10.500" textLength="67" lengthAdjust="spacingAndGlyphs">SUCCESS</text><text x="71.500" y="-3.500" font-family="'Liberation Sans','Noto Sans CJK SC',sans-serif" font-weight="500" font-size="33" textLength="214" lengthAdjust="spacingAndGlyphs">社科赛斯考研</text></g>
<g transform="translate(160.4,1061.5) rotate(-15)"><path d="M34.500,-33 L68,-10.500 C46,-17.500 23,-17.500 1,-10.500 Z"/><text x="1" y="0" font-family="'Liberation Sans',sans-serif" font-weight="700" font-size="10.500" textLength="67" lengthAdjust="spacingAndGlyphs">SUCCESS</text><text x="71.500" y="-3.500" font-family="'Liberation Sans','Noto Sans CJK SC',sans-serif" font-weight="500" font-size="33" textLength="214" lengthAdjust="spacingAndGlyphs">社科赛斯考研</text></g>
<g transform="translate(316.5,923.0) rotate(-15)"><path d="M34.500,-33 L68,-10.500 C46,-17.500 23,-17.500 1,-10.500 Z"/><text x="1" y="0" font-family="'Liberation Sans',sans-serif" font-weight="700" font-size="10.500" textLength="67" lengthAdjust="spacingAndGlyphs">SUCCESS</text><text x="71.500" y="-3.500" font-family="'Liberation Sans','Noto Sans CJK SC',sans-serif" font-weight="500" font-size="33" textLength="214" lengthAdjust="spacingAndGlyphs">社科赛斯考研</text></g>
<g transform="translate(473.4,1061.5) rotate(-15)"><path d="M34.500,-33 L68,-10.500 C46,-17.500 23,-17.500 1,-10.500 Z"/><text x="1" y="0" font-family="'Liberation Sans',sans-serif" font-weight="700" font-size="10.500" textLength="67" lengthAdjust="spacingAndGlyphs">SUCCESS</text><text x="71.500" y="-3.500" font-family="'Liberation Sans','Noto Sans CJK SC',sans-serif" font-weight="500" font-size="33" textLength="214" lengthAdjust="spacingAndGlyphs">社科赛斯考研</text></g>
<g transform="translate(629.5,923.0) rotate(-15)"><path d="M34.500,-33 L68,-10.500 C46,-17.500 23,-17.500 1,-10.500 Z"/><text x="1" y="0" font-family="'Liberation Sans',sans-serif" font-weight="700" font-size="10.500" textLength="67" lengthAdjust="spacingAndGlyphs">SUCCESS</text><text x="71.500" y="-3.500" font-family="'Liberation Sans','Noto Sans CJK SC',sans-serif" font-weight="500" font-size="33" textLength="214" lengthAdjust="spacingAndGlyphs">社科赛斯考研</text></g>
<g transform="translate(786.5,1061.5) rotate(-15)"><path d="M34.500,-33 L68,-10.500 C46,-17.500 23,-17.500 1,-10.500 Z"/><text x="1" y="0" font-family="'Liberation Sans',sans-serif" font-weight="700" font-size="10.500" textLength="67" lengthAdjust="spacingAndGlyphs">SUCCESS</text><text x="71.500" y="-3.500" font-family="'Liberation Sans','Noto Sans CJK SC',sans-serif" font-weight="500" font-size="33" textLength="214" lengthAdjust="spacingAndGlyphs">社科赛斯考研</text></g>
<g transform="translate(-152.1,1338.5) rotate(-15)"><path d="M34.500,-33 L68,-10.500 C46,-17.500 23,-17.500 1,-10.500 Z"/><text x="1" y="0" font-family="'Liberation Sans',sans-serif" font-weight="700" font-size="10.500" textLength="67" lengthAdjust="spacingAndGlyphs">SUCCESS</text><text x="71.500" y="-3.500" font-family="'Liberation Sans','Noto Sans CJK SC',sans-serif" font-weight="500" font-size="33" textLength="214" lengthAdjust="spacingAndGlyphs">社科赛斯考研</text></g>
<g transform="translate(4.0,1200.0) rotate(-15)"><path d="M34.500,-33 L68,-10.500 C46,-17.500 23,-17.500 1,-10.500 Z"/><text x="1" y="0" font-family="'Liberation Sans',sans-serif" font-weight="700" font-size="10.500" textLength="67" lengthAdjust="spacingAndGlyphs">SUCCESS</text><text x="71.500" y="-3.500" font-family="'Liberation Sans','Noto Sans CJK SC',sans-serif" font-weight="500" font-size="33" textLength="214" lengthAdjust="spacingAndGlyphs">社科赛斯考研</text></g>
<g transform="translate(160.9,1338.5) rotate(-15)"><path d="M34.500,-33 L68,-10.500 C46,-17.500 23,-17.500 1,-10.500 Z"/><text x="1" y="0" font-family="'Liberation Sans',sans-serif" font-weight="700" font-size="10.500" textLength="67" lengthAdjust="spacingAndGlyphs">SUCCESS</text><text x="71.500" y="-3.500" font-family="'Liberation Sans','Noto Sans CJK SC',sans-serif" font-weight="500" font-size="33" textLength="214" lengthAdjust="spacingAndGlyphs">社科赛斯考研</text></g>
<g transform="translate(317.0,1200.0) rotate(-15)"><path d="M34.500,-33 L68,-10.500 C46,-17.500 23,-17.500 1,-10.500 Z"/><text x="1" y="0" font-family="'Liberation Sans',sans-serif" font-weight="700" font-size="10.500" textLength="67" lengthAdjust="spacingAndGlyphs">SUCCESS</text><text x="71.500" y="-3.500" font-family="'Liberation Sans','Noto Sans CJK SC',sans-serif" font-weight="500" font-size="33" textLength="214" lengthAdjust="spacingAndGlyphs">社科赛斯考研</text></g>
<g transform="translate(473.9,1338.5) rotate(-15)"><path d="M34.500,-33 L68,-10.500 C46,-17.500 23,-17.500 1,-10.500 Z"/><text x="1" y="0" font-family="'Liberation Sans',sans-serif" font-weight="700" font-size="10.500" textLength="67" lengthAdjust="spacingAndGlyphs">SUCCESS</text><text x="71.500" y="-3.500" font-family="'Liberation Sans','Noto Sans CJK SC',sans-serif" font-weight="500" font-size="33" textLength="214" lengthAdjust="spacingAndGlyphs">社科赛斯考研</text></g>
<g transform="translate(630.0,1200.0) rotate(-15)"><path d="M34.500,-33 L68,-10.500 C46,-17.500 23,-17.500 1,-10.500 Z"/><text x="1" y="0" font-family="'Liberation Sans',sans-serif" font-weight="700" font-size="10.500" textLength="67" lengthAdjust="spacingAndGlyphs">SUCCESS</text><text x="71.500" y="-3.500" font-family="'Liberation Sans','Noto Sans CJK SC',sans-serif" font-weight="500" font-size="33" textLength="214" lengthAdjust="spacingAndGlyphs">社科赛斯考研</text></g>
<g transform="translate(787.0,1338.5) rotate(-15)"><path d="M34.500,-33 L68,-10.500 C46,-17.500 23,-17.500 1,-10.500 Z"/><text x="1" y="0" font-family="'Liberation Sans',sans-serif" font-weight="700" font-size="10.500" textLength="67" lengthAdjust="spacingAndGlyphs">SUCCESS</text><text x="71.500" y="-3.500" font-family="'Liberation Sans','Noto Sans CJK SC',sans-serif" font-weight="500" font-size="33" textLength="214" lengthAdjust="spacingAndGlyphs">社科赛斯考研</text></g>
<g transform="translate(4.5,1477.0) rotate(-15)"><path d="M34.500,-33 L68,-10.500 C46,-17.500 23,-17.500 1,-10.500 Z"/><text x="1" y="0" font-family="'Liberation Sans',sans-serif" font-weight="700" font-size="10.500" textLength="67" lengthAdjust="spacingAndGlyphs">SUCCESS</text><text x="71.500" y="-3.500" font-family="'Liberation Sans','Noto Sans CJK SC',sans-serif" font-weight="500" font-size="33" textLength="214" lengthAdjust="spacingAndGlyphs">社科赛斯考研</text></g>
<g transform="translate(317.5,1477.0) rotate(-15)"><path d="M34.500,-33 L68,-10.500 C46,-17.500 23,-17.500 1,-10.500 Z"/><text x="1" y="0" font-family="'Liberation Sans',sans-serif" font-weight="700" font-size="10.500" textLength="67" lengthAdjust="spacingAndGlyphs">SUCCESS</text><text x="71.500" y="-3.500" font-family="'Liberation Sans','Noto Sans CJK SC',sans-serif" font-weight="500" font-size="33" textLength="214" lengthAdjust="spacingAndGlyphs">社科赛斯考研</text></g>
<g transform="translate(630.5,1477.0) rotate(-15)"><path d="M34.500,-33 L68,-10.500 C46,-17.500 23,-17.500 1,-10.500 Z"/><text x="1" y="0" font-family="'Liberation Sans',sans-serif" font-weight="700" font-size="10.500" textLength="67" lengthAdjust="spacingAndGlyphs">SUCCESS</text><text x="71.500" y="-3.500" font-family="'Liberation Sans','Noto Sans CJK SC',sans-serif" font-weight="500" font-size="33" textLength="214" lengthAdjust="spacingAndGlyphs">社科赛斯考研</text></g>
</svg></div>
</div>
</body>
</html>
